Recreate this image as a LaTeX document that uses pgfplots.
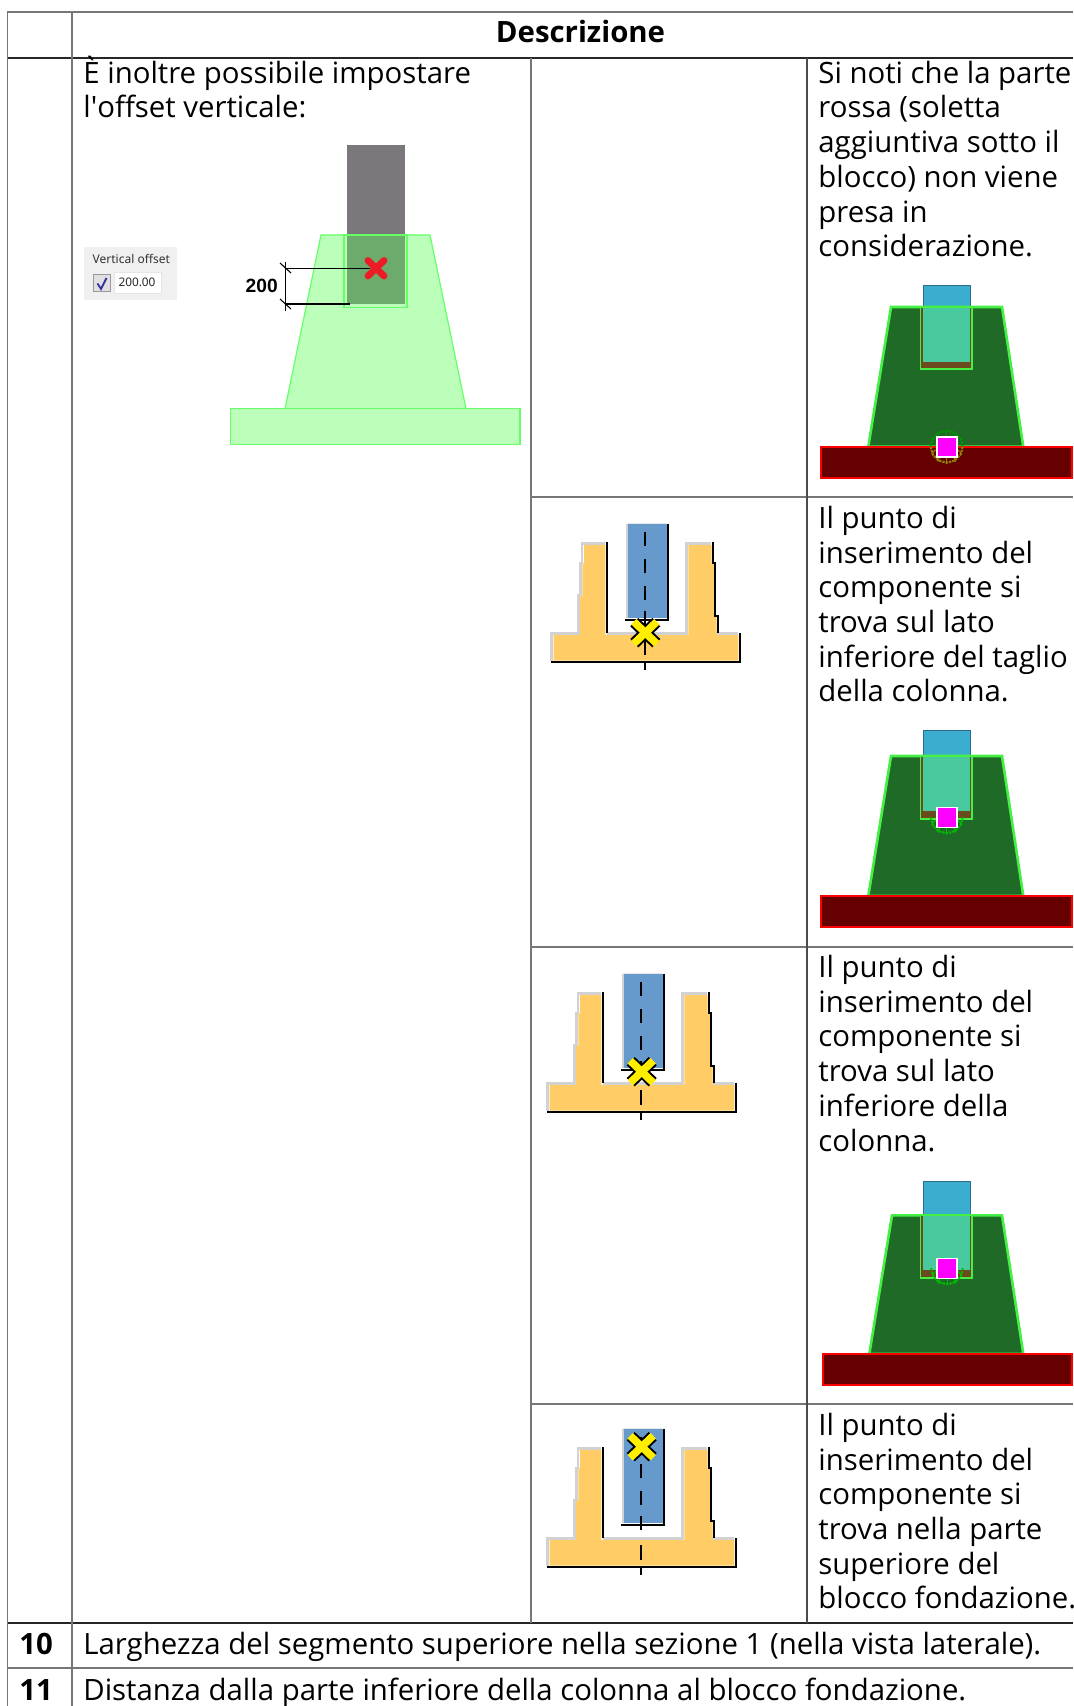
\documentclass[border=0pt]{standalone}
\usepackage{fontspec}
\usepackage{pgfplots}
\pgfplotsset{compat=1.18}
\setmainfont{Open Sans}
\newfontface\apos{Open Sans}[Ligatures=ResetAll]
\newfontfamily\uif{Noto Sans}
\newfontfamily\arialf{Liberation Sans}
\definecolor{gl}{HTML}{777777}
\definecolor{lgfill}{HTML}{BBFFBB}
\definecolor{lgedge}{HTML}{66FF66}
\definecolor{dgfill}{HTML}{1F6A26}
\definecolor{dgedge}{HTML}{44F044}
\definecolor{teal1}{HTML}{48C99E}
\definecolor{blue1}{HTML}{3BAED0}
\definecolor{blue1e}{HTML}{2C6C8C}
\definecolor{brn}{HTML}{6B4A1E}
\definecolor{dred}{HTML}{660000}
\definecolor{yel}{HTML}{FFCC66}
\definecolor{blu}{HTML}{6699CC}
\definecolor{hl}{HTML}{D2D2D2}
\definecolor{hlt}{HTML}{E6E6E6}
\definecolor{mag}{HTML}{FF00FF}
\definecolor{yx}{HTML}{FFEE00}
\definecolor{colg}{HTML}{7B777C}
\definecolor{colo}{HTML}{6CAB6C}
\definecolor{redx}{HTML}{ED1C24}
\definecolor{purered}{HTML}{FF0000}
\newcommand\R[5]{\addplot[#5] coordinates {(#1,#2)(#3,#2)(#3,#4)(#1,#4)} --cycle;}
\newcommand\Lb[2]{\addplot[line width=0.55pt,#2] coordinates {#1};}
\newcommand\T[3]{\node[anchor=base west,inner sep=0pt,font=\fontsize{14.68}{17}\selectfont] at (axis cs:#1,#2) {#3};}
% #1 blue top, #2 trapezoid top, #3 base top, #4 base bottom, #5 socket bottom, #6 teal bottom, #7 base left, #8 trap. top left, #9 trap. bottom left
\newcommand\Sec[9]{%
 \R{923}{#1}{970.3}{#2}{fill=blue1,draw=blue1e,line width=0.5pt}
 \addplot[fill=dgfill,draw=dgedge,line width=1.3pt] coordinates {(#8,#2)(1002,#2)(1023.3,#3)(#9,#3)} --cycle;
 \R{920}{#2}{972}{#5}{fill=brn,draw=none}
 \R{923}{#2}{970.3}{#6}{fill=teal1,draw=none}
 \R{920.5}{#2}{972}{#5}{draw=dgedge,line width=0.9pt}
 \R{#7}{#3}{1072}{#4}{fill=dred,draw=purered,line width=1pt}
}
\newcommand\Hatch[3]{%
 \addplot[draw=#3,line width=1pt,dash pattern=on 1.2pt off 0.5pt,x filter/.expression={x+#1},y filter/.expression={y+#2}] coordinates {(-16,0)(-13.9,8)(-8,13.9)(0,16)(8,13.9)(13.9,8)(16,0)};
 \addplot[draw=#3,line width=0.5pt,x filter/.expression={x+#1},y filter/.expression={y+#2}] coordinates {(0,8)(0,17)};
 \addplot[draw=#3,line width=0.5pt,x filter/.expression={x+#1},y filter/.expression={y+#2}] coordinates {(-6,8)(-9,15)};
 \addplot[draw=#3,line width=0.5pt,x filter/.expression={x+#1},y filter/.expression={y+#2}] coordinates {(6,8)(9,15)};
 \addplot[draw=#3,line width=0.5pt,x filter/.expression={x+#1},y filter/.expression={y+#2}] coordinates {(-11,3)(-15,7)};
 \addplot[draw=#3,line width=0.5pt,x filter/.expression={x+#1},y filter/.expression={y+#2}] coordinates {(11,3)(15,7)};
}
\newcommand\HatchT[3]{%
 \addplot[draw=#3,line width=1pt,dash pattern=on 1.2pt off 0.5pt,x filter/.expression={x+#1},y filter/.expression={y+#2}] coordinates {(-16,0)(-13.9,-8)(-8,-13.9)(0,-16)(8,-13.9)(13.9,-8)(16,0)};
 \addplot[draw=#3,line width=0.5pt,x filter/.expression={x+#1},y filter/.expression={y+#2}] coordinates {(0,-8)(0,-17)};
}
\newcommand\Sq[4]{%
 \R{#1}{#3}{#2}{#4}{fill=mag,draw=white,line width=0.8pt}
}
\newcommand\Dh[2]{\addplot[draw=black,line width=0.9pt] coordinates {(115.3,#1)(115.3,#2)};}
\newcommand\Foot[2]{%
 \begingroup
 \pgfplotsset{every axis plot/.append style={x filter/.expression={x+#1},y filter/.expression={y+#2}}}%
 \addplot[draw=hl,line width=1.3pt] coordinates {(21.5,160.7)(21.5,133.5)(48.5,133.5)(48.5,95)(50.5,95)(50.5,63)(52,63)(52,43.5)(75.3,43.5)};
 \addplot[draw=hl,line width=1.3pt] coordinates {(77,133.5)(156.7,133.5)(156.7,43.5)(181,43.5)};
 \addplot[draw=hl,line width=1.3pt] coordinates {(186,133.5)(208,133.5)};
 \addplot[fill=yel,draw=none] coordinates {(54,45)(75.3,45)(75.3,135)(158.3,135)(158.3,45)(181.7,45)(181.7,63.3)(184,63.3)(184,116)(186.7,116)(186.7,135)(208.3,135)(208.3,160.7)(23.5,160.7)(23.5,135)(50,135)(50,96)(52.3,96)(52.3,63.3)(54,63.3)} --cycle;
 \addplot[draw=black,line width=1.1pt] coordinates {(76.7,42)(76.7,133)};
 \addplot[draw=black,line width=1.1pt] coordinates {(183.3,42)(183.3,63.3)(185.3,63.3)(185.3,116)(187.7,116)(187.7,133)};
 \addplot[draw=black,line width=1pt] coordinates {(210,133)(210,162.4)(20.7,162.4)};
 \addplot[draw=hl,line width=1.2pt] coordinates {(96.7,118)(96.7,23.5)};
 \addplot[draw=hlt,line width=0.8pt] coordinates {(96.7,23.3)(136,23.3)};
 \R{98.4}{24}{136.5}{118}{fill=blu,draw=none}
 \addplot[draw=black,line width=1.1pt] coordinates {(137.7,23.5)(137.7,120)(95,120)};
 \Dh{31.7}{45.7}\Dh{59}{73}\Dh{86}{100}\Dh{111}{125}\Dh{140}{155}\Dh{161.5}{170}
 \endgroup
}
\newcommand\YX[2]{%
 \addplot[draw=black,line width=5.8pt,x filter/.expression={x+#1},y filter/.expression={y+#2}] coordinates {(-11,-10.5)(11,10.5)};
 \addplot[draw=black,line width=5.8pt,x filter/.expression={x+#1},y filter/.expression={y+#2}] coordinates {(-11,10.5)(11,-10.5)};
 \addplot[draw=yx,line width=3.8pt,x filter/.expression={x+#1},y filter/.expression={y+#2}] coordinates {(-11.5,-11)(11.5,11)};
 \addplot[draw=yx,line width=3.8pt,x filter/.expression={x+#1},y filter/.expression={y+#2}] coordinates {(-11.5,11)(11.5,-11)};
}
\begin{document}
\begin{tikzpicture}
\path[use as bounding box,clip] (0,0) rectangle (536.5pt,853pt);
\begin{axis}[at={(0,0)},anchor=south west,scale only axis,width=536.5pt,height=853pt,
 xmin=0,xmax=1073,ymin=0,ymax=1706,y dir=reverse,axis lines=none,ticks=none,clip=false,no markers]
% grid
\Lb{(7,12)(1073,12)}{gl}
\Lb{(7,58)(1073,58)}{black!85}
\Lb{(7,1623)(1073,1623)}{black!85}
\Lb{(7,1668)(1073,1668)}{gl}
\Lb{(531,497)(1073,497)}{gl}
\Lb{(531,947)(1073,947)}{gl}
\Lb{(531,1404)(1073,1404)}{gl}
\Lb{(7.5,12)(7.5,1706)}{gl}
\Lb{(72,12)(72,1706)}{gl}
\Lb{(531,58)(531,1623)}{gl}
\Lb{(807,58)(807,1623)}{black!70}
% header and text
\node[inner sep=0pt,anchor=base,font=\fontsize{14.68}{17}\selectfont\bfseries] at (axis cs:580.5,42.5) {Descrizione};
\T{83}{84}{È inoltre possibile impostare}
\T{83}{118}{l{\apos'}offset verticale:}
\T{818}{83.2}{Si noti che la parte}
\T{818}{117.2}{rossa (soletta}
\T{818}{152.2}{aggiuntiva sotto il}
\T{818}{187.2}{blocco) non viene}
\T{818}{222.2}{presa in}
\T{818}{257}{considerazione.}
\T{818}{528.5}{Il punto di}
\T{818}{563.3}{inserimento del}
\T{818}{597.5}{componente si}
\T{818}{632.4}{trova sul lato}
\T{818}{667}{inferiore del taglio}
\T{818}{701.3}{della colonna.}
\T{818}{977.2}{Il punto di}
\T{818}{1012.4}{inserimento del}
\T{818}{1046.8}{componente si}
\T{818}{1081.6}{trova sul lato}
\T{818}{1116.2}{inferiore della}
\T{818}{1151}{colonna.}
\T{818}{1435.5}{Il punto di}
\T{818}{1470}{inserimento del}
\T{818}{1504.5}{componente si}
\T{818}{1539.3}{trova nella parte}
\T{818}{1574}{superiore del}
\T{818}{1608}{blocco fondazione.}
\T{83}{1654}{Larghezza del segmento superiore nella sezione 1 (nella vista laterale).}
\T{83}{1700.5}{Distanza dalla parte inferiore della colonna al blocco fondazione.}
\node[anchor=base west,inner sep=0pt,font=\fontsize{14.68}{17}\selectfont\bfseries] at (axis cs:19,1654) {10};
\node[anchor=base west,inner sep=0pt,font=\fontsize{14.68}{17}\selectfont\bfseries] at (axis cs:19,1700.5) {11};
% left drawing
\R{346.7}{145}{405.3}{304}{fill=colg,draw=none}
\addplot[fill=lgfill,draw=lgedge,line width=0.6pt] coordinates {(321,235)(430,235)(466,408.7)(285,408.7)} --cycle;
\R{230.7}{408.7}{520}{444.7}{fill=lgfill,draw=lgedge,line width=0.6pt}
\R{346.7}{235}{405.3}{304}{fill=colo,draw=none}
\R{344}{235}{407}{307.5}{draw=lgedge,line width=0.6pt}
\Lb{(285.7,268.3)(370,268.3)}{black}
\Lb{(285.7,304)(350,304)}{black}
\Lb{(285.7,262)(285.7,311)}{black}
\Lb{(280,263)(291,273)}{black}
\Lb{(280,299)(291,309)}{black}
\addplot[draw=redx,line width=3.4pt,line cap=round] coordinates {(368,260.5)(384,276)};
\addplot[draw=redx,line width=3.4pt,line cap=round] coordinates {(368,276)(384,260.5)};
\node[font=\arialf\bfseries\fontsize{9.6}{12}\selectfont,inner sep=0pt] at (axis cs:261.7,285.7) {200};
% panel
\R{84}{246.7}{176.7}{300}{fill=black!6,draw=none}
\node[font=\uif\fontsize{6}{7}\selectfont,inner sep=0pt,text=black!80] at (axis cs:131.3,259) {Vertical offset};
\R{93.3}{274.7}{110.7}{292}{fill=blue!8!black!12,draw=black!40,line width=0.5pt}
\addplot[draw=blue!50!black!80,line width=0.9pt] coordinates {(97.5,283.5)(101,289)(106.5,278)};
\R{114}{272.7}{161.3}{293.3}{fill=white,draw=black!10,line width=0.4pt}
\node[font=\uif\fontsize{5.9}{7}\selectfont,inner sep=0pt,text=black!85] at (axis cs:137,282.3) {200.00};
% section 1
\Sec{285.7}{307}{446.7}{478.3}{369.3}{361.7}{821}{891}{868.3}
\HatchT{946.7}{446.7}{green!60!black}
\Hatch{946.7}{446.7}{olive}
\Sq{936.7}{956.7}{436.7}{456.7}
% section 2
\Sec{730.7}{756}{896}{927}{818.7}{810.7}{821}{891}{868.3}
\Hatch{946.7}{817.3}{green!75!black}
\Sq{936.7}{956.7}{807.3}{827.3}
% section 3
\Sec{1181}{1215.3}{1354}{1385}{1277.7}{1270}{822.7}{892}{869.3}
\Hatch{947}{1268.3}{green!75!black}
\Sq{937}{957}{1258.3}{1278.3}
% feet
\Foot{530}{500}
\YX{645.3}{632.7}
\Foot{526}{950}
\YX{641.7}{1071.7}
\Foot{526}{1405}
\YX{641.7}{1446.7}
\end{axis}
\end{tikzpicture}
\end{document}
